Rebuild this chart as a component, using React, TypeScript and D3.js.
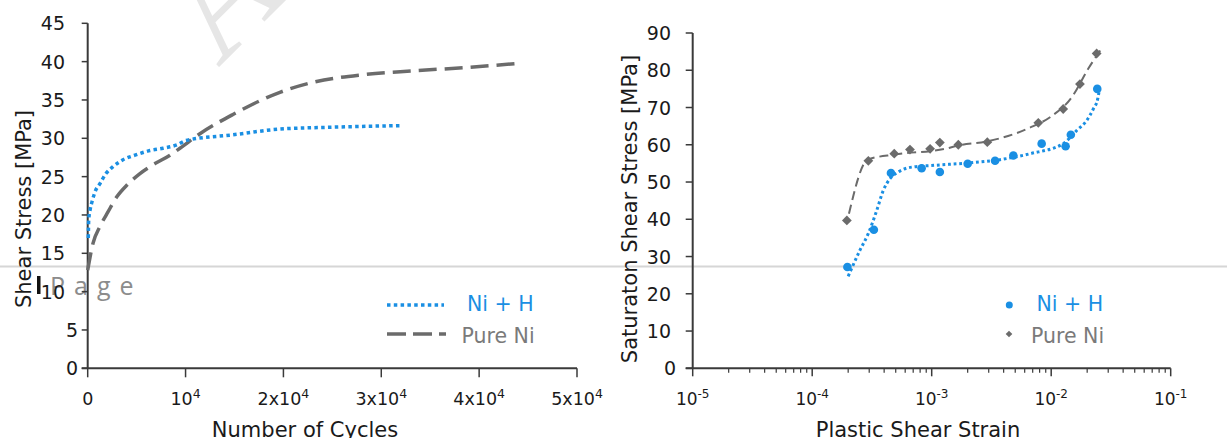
import React from 'react';
import * as d3 from 'd3';

// ---------- Left chart: shear stress vs number of cycles ----------
const cyclesNiH = [60, 102, 235, 439, 746, 1256, 1869, 2584, 3606, 4831, 6364, 7692, 9224, 10000, 14800, 19600, 25000, 31900];
const stressNiH = [17.0, 19.3, 20.6, 21.7, 23.0, 24.1, 25.4, 26.3, 27.2, 27.8, 28.4, 28.7, 29.2, 29.7, 30.45, 31.2, 31.45, 31.65];

const cyclesPureNi = [0, 541, 1256, 2073, 2993, 4014, 5342, 6874, 8407, 9428, 11470, 14840, 19640, 23010, 28120, 33230, 38330, 43850];
const stressPureNi = [12.8, 16.3, 18.5, 20.4, 22.4, 23.9, 25.4, 26.7, 27.8, 28.7, 30.6, 33.1, 36.0, 37.3, 38.3, 38.8, 39.2, 39.75];

const leftYTicks = [0, 5, 10, 15, 20, 25, 30, 35, 40, 45];
const leftXTicks = [0, 10000, 20000, 30000, 40000, 50000];
const leftXTickBase = ['0', '10', '2x10', '3x10', '4x10', '5x10'];
const leftXTickExp = ['', '4', '4', '4', '4', '4'];

// ---------- Right chart: saturation shear stress vs plastic shear strain ----------
const strainNiH = [1.97e-4, 3.28e-4, 4.56e-4, 8.24e-4, 1.17e-3, 2.0e-3, 3.39e-3, 4.82e-3, 8.32e-3, 1.32e-2, 1.46e-2, 2.43e-2];
const satNiH = [27.2, 37.2, 52.4, 53.7, 52.7, 54.9, 55.7, 57.1, 60.3, 59.6, 62.7, 75.0];

const strainPureNi = [1.95e-4, 2.95e-4, 4.86e-4, 6.58e-4, 9.7e-4, 1.17e-3, 1.67e-3, 2.92e-3, 7.8e-3, 1.26e-2, 1.74e-2, 2.4e-2];
const satPureNi = [39.7, 55.7, 57.6, 58.7, 58.9, 60.6, 60.0, 60.7, 65.9, 69.6, 76.3, 84.5];

const trendStrainNiH = [2.0e-4, 2.51e-4, 2.95e-4, 3.47e-4, 3.94e-4, 4.48e-4, 5.25e-4, 6.8e-4, 1.07e-3, 2.0e-3, 3.73e-3, 6.65e-3, 1.26e-2, 1.63e-2, 1.98e-2, 2.25e-2, 2.45e-2, 2.51e-2];
const trendSatNiH = [24.7, 31.7, 36.2, 42.4, 47.8, 50.9, 52.7, 54.0, 54.5, 55.1, 56.0, 57.6, 60.3, 63.8, 66.5, 69.6, 72.3, 74.1];

const trendStrainPureNi = [2.03e-4, 2.91e-4, 4.93e-4, 1.29e-3, 1.67e-3, 2.9e-3, 6.65e-3, 9.77e-3, 1.49e-2, 2.04e-2, 2.7e-2];
const trendSatPureNi = [41.5, 56.0, 57.4, 58.9, 59.8, 60.9, 64.6, 67.4, 72.8, 80.4, 86.3];

const rightYTicks = [0, 10, 20, 30, 40, 50, 60, 70, 80, 90];
const rightXTicks = [1e-5, 1e-4, 1e-3, 1e-2, 1e-1];
const rightXTickBase = ['10', '10', '10', '10', '10'];
const rightXTickExp = ['-5', '-4', '-3', '-2', '-1'];

const legendLabels = ['Ni + H', 'Pure Ni'];

const BLUE = '#1a8fe3';
const GRAY = '#6b6b6b';
const AXIS = '#3a3a3a';
const TXT = '#1a1a1a';
const FONT = '"DejaVu Sans", Verdana, sans-serif';

export default function App() {
  const W = 1227;
  const H = 438;

  const lx = d3.scaleLinear().domain([0, 50000]).range([87.7, 577]);
  const ly = d3.scaleLinear().domain([0, 45]).range([368.3, 23.3]);
  const rx = d3.scaleLog().domain([1e-5, 1e-1]).range([692.7, 1170.7]);
  const ry = d3.scaleLinear().domain([0, 90]).range([368.3, 33]);

  const idx = (n: number) => d3.range(n);

  const lineNiH = d3.line<number>()
    .x((i) => lx(cyclesNiH[i]))
    .y((i) => ly(stressNiH[i]))
    .curve(d3.curveMonotoneX)(idx(cyclesNiH.length)) || '';
  const linePure = d3.line<number>()
    .x((i) => lx(cyclesPureNi[i]))
    .y((i) => ly(stressPureNi[i]))
    .curve(d3.curveMonotoneX)(idx(cyclesPureNi.length)) || '';

  const trendNiH = d3.line<number>()
    .x((i) => rx(trendStrainNiH[i]))
    .y((i) => ry(trendSatNiH[i]))
    .curve(d3.curveMonotoneX)(idx(trendStrainNiH.length)) || '';
  const trendPure = d3.line<number>()
    .x((i) => rx(trendStrainPureNi[i]))
    .y((i) => ry(trendSatPureNi[i]))
    .curve(d3.curveMonotoneX)(idx(trendStrainPureNi.length)) || '';

  const diamond = d3.symbol().type(d3.symbolSquare).size(48)() || '';
  const diamondSmall = d3.symbol().type(d3.symbolSquare).size(22)() || '';

  const minorTicks = rx.ticks().filter((t) => !rightXTicks.some((m) => Math.abs(m - t) / m < 1e-6));

  return (
    <svg width={W} height={H} style={{ position: 'absolute', left: 0, top: 0, background: '#fff' }} fontFamily={FONT}>
      <rect x={0} y={0} width={W} height={H} fill="#fff" />

      {/* page artefacts underneath */}
      <line x1={0} x2={W} y1={266.5} y2={266.5} stroke="#d6d6d6" strokeWidth={2} />
      <text transform="translate(218,68) rotate(-45)" fontFamily='"Liberation Serif", serif' fontSize={150} fill="#e6e6e6">A</text>
      <rect x={37} y={276} width={3.5} height={18} fill="#111" />
      <text x={50} y={295} fontFamily='"Open Sans", sans-serif' fontSize={25} fill="#8c8c8c" letterSpacing={9}>Page</text>

      {/* ===== Left chart ===== */}
      <line x1={lx(0)} x2={lx(0)} y1={ly(45)} y2={ly(0)} stroke={AXIS} strokeWidth={2} />
      <line x1={lx(0) - 6} x2={lx(50000)} y1={ly(0)} y2={ly(0)} stroke={AXIS} strokeWidth={2} />
      {leftYTicks.map((t) => (
        <g key={'ly' + t}>
          <line x1={lx(0) - 6} x2={lx(0)} y1={ly(t)} y2={ly(t)} stroke={AXIS} strokeWidth={1.5} />
          <text x={String(t).length === 1 ? 78 : 65} y={ly(t) + 7} textAnchor="end" fontSize={19} fill={TXT}>{t}</text>
        </g>
      ))}
      {leftXTicks.map((t, i) => (
        <g key={'lx' + t}>
          <line x1={lx(t)} x2={lx(t)} y1={ly(0)} y2={ly(0) + 9} stroke={AXIS} strokeWidth={1.5} />
          <text x={lx(t)} y={405} textAnchor="middle" fontSize={17.5} fill={TXT}>
            {leftXTickBase[i]}
            {leftXTickExp[i] && <tspan fontSize={12.5} dy={-7}>{leftXTickExp[i]}</tspan>}
          </text>
        </g>
      ))}
      <path d={linePure} fill="none" stroke={GRAY} strokeWidth={3.5} strokeDasharray="18 8" />
      <path d={lineNiH} fill="none" stroke={BLUE} strokeWidth={3.5} strokeDasharray="3.5 3.3" />
      <text transform="translate(31,209) rotate(-90)" textAnchor="middle" fontSize={21} fill={TXT}>Shear Stress [MPa]</text>
      <text x={305} y={437} textAnchor="middle" fontSize={21} fill={TXT}>Number of Cycles</text>

      {/* left legend */}
      <line x1={387} x2={444} y1={305} y2={305} stroke={BLUE} strokeWidth={3.5} strokeDasharray="3.5 3.3" />
      <text x={467} y={311} fontSize={20.5} fill={BLUE}>{legendLabels[0]}</text>
      <line x1={387} x2={446} y1={334} y2={334} stroke={GRAY} strokeWidth={3.5} strokeDasharray="19 7" />
      <text x={461.5} y={343} fontSize={20.5} fill="#7a7a7a">{legendLabels[1]}</text>

      {/* ===== Right chart ===== */}
      <line x1={rx(1e-5)} x2={rx(1e-5)} y1={ry(90)} y2={ry(0)} stroke={AXIS} strokeWidth={2} />
      <line x1={rx(1e-5) - 7} x2={rx(1e-1)} y1={ry(0)} y2={ry(0)} stroke={AXIS} strokeWidth={2} />
      {rightYTicks.map((t) => (
        <g key={'ry' + t}>
          <line x1={rx(1e-5) - 7} x2={rx(1e-5)} y1={ry(t)} y2={ry(t)} stroke={AXIS} strokeWidth={1.5} />
          <text x={String(t).length === 1 ? 676 : 671} y={ry(t) + 7} textAnchor="end" fontSize={19} fill={TXT}>{t}</text>
        </g>
      ))}
      {minorTicks.map((t, i) => (
        <line key={'rm' + i} x1={rx(t)} x2={rx(t)} y1={ry(0)} y2={ry(0) + 4.5} stroke={AXIS} strokeWidth={1.2} />
      ))}
      {rightXTicks.map((t, i) => (
        <g key={'rx' + i}>
          <line x1={rx(t)} x2={rx(t)} y1={ry(0)} y2={ry(0) + 8} stroke={AXIS} strokeWidth={1.5} />
          <text x={rx(t)} y={405} textAnchor="middle" fontSize={17} fill={TXT}>
            {rightXTickBase[i]}
            <tspan fontSize={12} dy={-7}>{rightXTickExp[i]}</tspan>
          </text>
        </g>
      ))}
      <path d={trendPure} fill="none" stroke={GRAY} strokeWidth={2} strokeDasharray="9 5" />
      <path d={trendNiH} fill="none" stroke={BLUE} strokeWidth={3} strokeDasharray="2.8 2.8" />
      {strainPureNi.map((s, i) => (
        <path key={'pd' + i} d={diamond} transform={`translate(${rx(s)},${ry(satPureNi[i])}) rotate(45)`} fill={GRAY} />
      ))}
      {strainNiH.map((s, i) => (
        <circle key={'pc' + i} cx={rx(s)} cy={ry(satNiH[i])} r={4.3} fill={BLUE} />
      ))}
      <text transform="translate(637,209) rotate(-90)" textAnchor="middle" fontSize={21} fill={TXT}>Saturaton Shear Stress [MPa]</text>
      <text x={918} y={437} textAnchor="middle" fontSize={21} fill={TXT}>Plastic Shear Strain</text>

      {/* right legend */}
      <circle cx={1009.3} cy={305} r={3.5} fill={BLUE} />
      <text x={1036.5} y={311} fontSize={20.5} fill={BLUE}>{legendLabels[0]}</text>
      <path d={diamondSmall} transform="translate(1009,334) rotate(45)" fill={GRAY} />
      <text x={1031} y={343} fontSize={20.5} fill="#7a7a7a">{legendLabels[1]}</text>
    </svg>
  );
}
